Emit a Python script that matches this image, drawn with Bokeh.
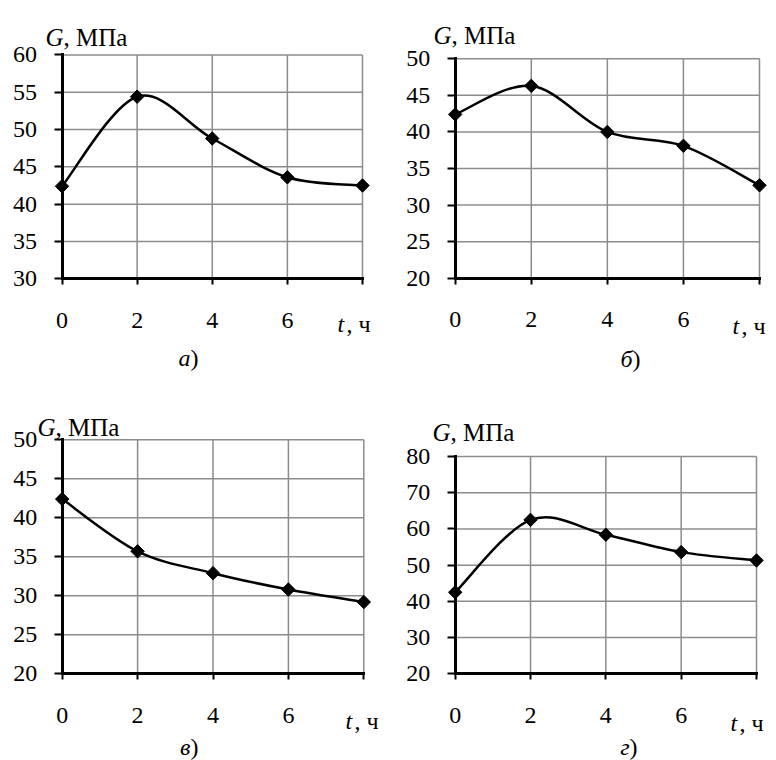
import numpy as np
from bokeh.plotting import figure
from bokeh.models import Label, FixedTicker
from bokeh.layouts import column, row
from bokeh.embed import file_html
from bokeh.resources import INLINE

# ---------------- data ----------------
t_hours = [0, 2, 4, 6, 8]
x_tick_labels = {0: "0", 2: "2", 4: "4", 6: "6", 8: ""}

G_a = [42.4, 54.4, 48.8, 43.6, 42.5]
G_b = [42.4, 46.3, 40.0, 38.1, 32.7]
G_c = [42.4, 35.7, 32.9, 30.8, 29.2]
G_d = [42.5, 62.5, 58.4, 53.6, 51.3]

yticks_a = [30, 35, 40, 45, 50, 55, 60]
yticks_b = [20, 25, 30, 35, 40, 45, 50]
yticks_c = [20, 25, 30, 35, 40, 45, 50]
yticks_d = [20, 30, 40, 50, 60, 70, 80]

panel_letters = ["а", "б", "в", "г"]
y_title = ("G", ", МПа")
x_title = ("t", ", ч")

# ---------------- styling / layout ----------------
FONT = "Liberation Serif"
FS = "24px"
FS_T = "25px"
FW, FH = 388, 380
GRID_COLOR = "#8c8c8c"

# data box (x=0..8, y=min..max) in page pixels: L, T, R, B ; figure origin
panels = [
    dict(G=G_a, yt=yticks_a, box=(61.5, 54.4, 362.0, 278.3), org=(0, 0),
         gpos=(45, 36.7), tpos=(337, 323), spos=(190, 357)),
    dict(G=G_b, yt=yticks_b, box=(454.7, 58.3, 759.0, 277.7), org=(388, 0),
         gpos=(433, 35), tpos=(732, 325), spos=(632, 358)),
    dict(G=G_c, yt=yticks_c, box=(61.7, 439.3, 363.3, 673.3), org=(0, 380),
         gpos=(37, 426.7), tpos=(345, 720), spos=(190, 746)),
    dict(G=G_d, yt=yticks_d, box=(454.7, 456.0, 756.0, 673.3), org=(388, 380),
         gpos=(432, 431.7), tpos=(730, 722), spos=(629, 746)),
]


def bezier_parts(xs, ys):
    x = np.asarray(xs, float)
    y = np.asarray(ys, float)
    n = len(x)
    out = {k: [] for k in ("x0", "y0", "x1", "y1", "cx0", "cy0", "cx1", "cy1")}
    for i in range(n - 1):
        im = max(i - 1, 0)
        ip2 = min(i + 2, n - 1)
        out["x0"].append(x[i]); out["y0"].append(y[i])
        out["x1"].append(x[i + 1]); out["y1"].append(y[i + 1])
        out["cx0"].append(x[i] + (x[i + 1] - x[im]) / 6)
        out["cy0"].append(y[i] + (y[i + 1] - y[im]) / 6)
        out["cx1"].append(x[i + 1] - (x[ip2] - x[i]) / 6)
        out["cy1"].append(y[i + 1] - (y[ip2] - y[i]) / 6)
    return out


def make_panel(idx, cfg):
    L, T, R, B = cfg["box"]
    ox, oy = cfg["org"]
    yt = cfg["yt"]
    ymin, ymax = min(yt), max(yt)
    xmin, xmax = min(t_hours), max(t_hours)
    Lf, Rf, Tf, Bf = L - ox, R - ox, T - oy, B - oy
    # the frame fills the whole figure so nothing (labels, ticks) is clipped
    sx = (Rf - Lf) / (xmax - xmin)
    sy = (Bf - Tf) / (ymax - ymin)
    x_start = xmin - Lf / sx
    x_end = xmax + (FW - Rf) / sx
    y_end = ymax + Tf / sy
    y_start = ymin - (FH - Bf) / sy

    p = figure(width=FW, height=FH, x_range=(x_start, x_end), y_range=(y_start, y_end),
               min_border_left=0, min_border_right=0,
               min_border_top=0, min_border_bottom=0,
               toolbar_location=None, output_backend="svg", title=None)
    p.outline_line_color = None
    p.background_fill_color = "white"
    p.border_fill_color = "white"
    p.xgrid.visible = False
    p.ygrid.visible = False

    # grid lines
    xg = [v for v in t_hours]
    p.segment(x0=xg, y0=[ymin] * len(xg), x1=xg, y1=[ymax] * len(xg),
              line_color=GRID_COLOR, line_width=1.5, level="underlay")
    p.segment(x0=[xmin] * len(yt), y0=yt, x1=[xmax] * len(yt), y1=yt,
              line_color=GRID_COLOR, line_width=1.5, level="underlay")

    # axes
    for ax in (p.xaxis[0], p.yaxis[0]):
        ax.axis_line_color = "black"
        ax.axis_line_width = 3
        ax.axis_line_cap = "square"
        ax.major_tick_line_color = "black"
        ax.major_tick_line_width = 2
        ax.major_tick_in = 0
        ax.minor_tick_line_color = None
        ax.major_label_text_font = FONT
        ax.major_label_text_font_size = FS
        ax.major_label_text_color = "black"
    xa = p.xaxis[0]
    xa.ticker = FixedTicker(ticks=t_hours)
    xa.major_label_overrides = x_tick_labels
    xa.bounds = (xmin, xmax)
    xa.fixed_location = ymin
    xa.major_tick_out = 6
    xa.major_label_standoff = 28
    ya = p.yaxis[0]
    ya.ticker = FixedTicker(ticks=yt)
    ya.bounds = (ymin, ymax)
    ya.fixed_location = xmin
    ya.major_tick_out = 8
    ya.major_label_standoff = 17

    # smoothed curve + markers
    bz = bezier_parts(t_hours, cfg["G"])
    p.bezier(line_color="black", line_width=2.5, line_cap="round", level="overlay", **bz)
    p.scatter(t_hours, cfg["G"], marker="square", angle=np.pi / 4, size=9.5,
              fill_color="black", line_color="black", level="overlay")

    def X(px):
        return xmin + (px - L) / sx

    def Y(py):
        return ymax - (py - T) / sy

    def lab(px, py, text, italic=False, align="left", size=FS):
        p.add_layout(Label(x=X(px), y=Y(py), text=text, text_font=FONT,
                           text_font_size=size, text_color="black",
                           text_font_style="italic" if italic else "normal",
                           text_align=align, text_baseline="alphabetic"))

    gx, gy = cfg["gpos"]
    lab(gx, gy, y_title[0], italic=True, size=FS_T)
    lab(gx + 18, gy, y_title[1], size=FS_T)
    tx, ty = cfg["tpos"]
    lab(tx, ty, x_title[0], italic=True)
    lab(tx + 9, ty, x_title[1])
    sxp, syp = cfg["spos"]
    lab(sxp, syp, panel_letters[idx], italic=True, align="right")
    lab(sxp, syp, ")")
    return p


figs = [make_panel(i, c) for i, c in enumerate(panels)]
layout = column(row(figs[0], figs[1]), row(figs[2], figs[3]))

with open("out.html", "w") as f:
    f.write(file_html(layout, INLINE))
